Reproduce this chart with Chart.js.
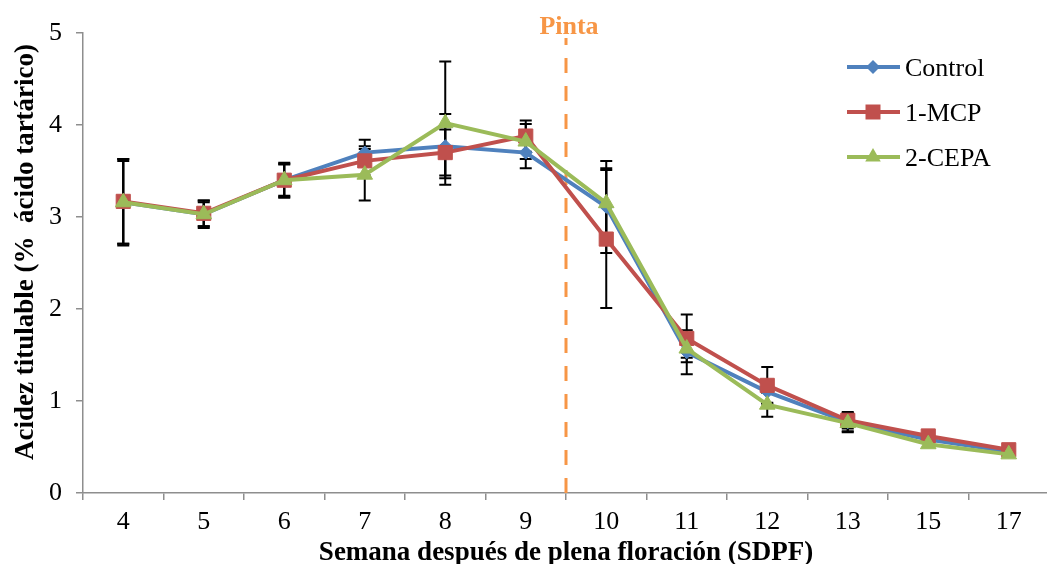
<!DOCTYPE html>
<html>
<head>
<meta charset="utf-8">
<style>
  html, body { margin: 0; padding: 0; background: #fff; overflow: hidden; }
  canvas { display: block; }
</style>
<script src="https://cdn.jsdelivr.net/npm/chart.js@4/dist/chart.umd.min.js"></script>
</head>
<body>
<canvas id="c" width="1060" height="564"></canvas>
<script>
// Weeks after full bloom
const weeks = ['4', '5', '6', '7', '8', '9', '10', '11', '12', '13', '15', '17'];

// Titratable acidity (% tartaric acid) and standard deviations
const control    = [3.16, 3.03, 3.40, 3.70, 3.77, 3.70, 3.11, 1.53, 1.10, 0.77, 0.58, 0.45];
const controlErr = [0.47, 0.15, 0.19, 0.14, 0.35, 0.17, 0.50, 0.24, 0.12, 0.10, 0.03, 0.02];
const mcp        = [3.17, 3.04, 3.40, 3.61, 3.70, 3.88, 2.76, 1.68, 1.17, 0.79, 0.62, 0.47];
const mcpErr     = [0.46, 0.14, 0.18, 0.16, 0.25, 0.17, 0.75, 0.26, 0.20, 0.09, 0.04, 0.03];
const cepa       = [3.16, 3.03, 3.40, 3.46, 4.02, 3.82, 3.15, 1.57, 0.96, 0.76, 0.53, 0.42];
const cepaErr    = [0.45, 0.13, 0.17, 0.28, 0.67, 0.19, 0.38, 0.10, 0.13, 0.10, 0.03, 0.02];

// Y axis ticks
const yTicks = [0, 1, 2, 3, 4, 5];

// Veraison ("Pinta") falls between week 9 and week 10
const pintaAfterIndex = 5;

const SERIF = "'Liberation Serif', 'Times New Roman', serif";
const AXIS = '#8e8e8e';
const BLUE = '#4F81BD', RED = '#C0504D', GREEN = '#9BBB59', ORANGE = '#F79646';

function marker(ctx, style, x, y, color) {
  ctx.save();
  ctx.fillStyle = color;
  ctx.beginPath();
  if (style === 'rectRot') {
    const r = 7;
    ctx.moveTo(x - r, y); ctx.lineTo(x, y - r); ctx.lineTo(x + r, y); ctx.lineTo(x, y + r);
  } else if (style === 'rect') {
    const h = 7.5;
    ctx.rect(x - h, y - h, 2 * h, 2 * h);
  } else {
    const r = 9;
    ctx.moveTo(x, y - r);
    ctx.lineTo(x + r * Math.sin(2 * Math.PI / 3), y - r * Math.cos(2 * Math.PI / 3));
    ctx.lineTo(x + r * Math.sin(4 * Math.PI / 3), y - r * Math.cos(4 * Math.PI / 3));
  }
  ctx.closePath();
  ctx.fill();
  ctx.restore();
}

const errorBars = {
  id: 'errorBars',
  beforeDatasetsDraw(chart) {
    const { ctx, scales: { x, y } } = chart;
    ctx.save();
    ctx.strokeStyle = '#000';
    ctx.lineWidth = 2;
    chart.data.datasets.forEach(ds => {
      ds.values.forEach((v, i) => {
        const e = ds.errors[i];
        const px = x.getPixelForValue(i);
        const top = y.getPixelForValue(v + e);
        const bot = y.getPixelForValue(v - e);
        ctx.beginPath();
        ctx.moveTo(px, top); ctx.lineTo(px, bot);
        ctx.moveTo(px - 6, top); ctx.lineTo(px + 6, top);
        ctx.moveTo(px - 6, bot); ctx.lineTo(px + 6, bot);
        ctx.stroke();
      });
    });
    ctx.restore();
  }
};

const decorations = {
  id: 'decorations',
  beforeDatasetsDraw(chart) {
    const { ctx, chartArea, scales: { x } } = chart;
    const px = Math.round((x.getPixelForValue(pintaAfterIndex) + x.getPixelForValue(pintaAfterIndex + 1)) / 2);
    ctx.save();
    ctx.strokeStyle = ORANGE;
    ctx.lineWidth = 3;
    ctx.setLineDash([15, 13]);
    ctx.lineDashOffset = 8;
    ctx.beginPath();
    ctx.moveTo(px, chartArea.top + 5);
    ctx.lineTo(px, chartArea.bottom);
    ctx.stroke();
    ctx.restore();
  },
  afterDraw(chart) {
    const { ctx, scales: { x } } = chart;
    const px = (x.getPixelForValue(pintaAfterIndex) + x.getPixelForValue(pintaAfterIndex + 1)) / 2;
    ctx.save();
    ctx.fillStyle = ORANGE;
    ctx.font = 'bold 26px ' + SERIF;
    ctx.textAlign = 'center';
    ctx.textBaseline = 'alphabetic';
    ctx.fillText('Pinta', px + 3, 34);

    ctx.fillStyle = '#000';
    ctx.font = 'bold 27px ' + SERIF;
    ctx.fillText('Semana después de plena floración (SDPF)', 566, 560);

    ctx.translate(33, 252);
    ctx.rotate(-Math.PI / 2);
    ctx.fillText('Acidez titulable (%  ácido tartárico)', 0, 0);
    ctx.restore();

    // legend
    ctx.save();
    ctx.font = '26px ' + SERIF;
    ctx.textAlign = 'left';
    ctx.textBaseline = 'alphabetic';
    chart.data.datasets.forEach((ds, i) => {
      const ly = 67 + 45 * i;
      ctx.strokeStyle = ds.borderColor;
      ctx.lineWidth = 4;
      ctx.beginPath();
      ctx.moveTo(847, ly); ctx.lineTo(900, ly);
      ctx.stroke();
      marker(ctx, ds.pointStyle, 873, ly, ds.borderColor);
      ctx.fillStyle = '#000';
      ctx.fillText(ds.label, 905, ly + 9);
    });
    ctx.restore();
  }
};

function series(label, values, errors, color, style, radius, order) {
  return {
    label, data: values, values, errors,
    borderColor: color, backgroundColor: color,
    borderWidth: 4, pointStyle: style, pointRadius: radius,
    pointBorderWidth: 1, pointBorderColor: color, pointBackgroundColor: color,
    tension: 0, order
  };
}

new Chart(document.getElementById('c'), {
  type: 'line',
  data: {
    labels: weeks,
    datasets: [
      series('Control', control, controlErr, BLUE, 'rectRot', 6.5, 2),
      series('1-MCP', mcp, mcpErr, RED, 'rect', 10, 1),
      series('2-CEPA', cepa, cepaErr, GREEN, 'triangle', 9, 0)
    ]
  },
  options: {
    responsive: false,
    devicePixelRatio: 1,
    animation: false,
    layout: { padding: { top: 33, right: 7, left: 0, bottom: 0 } },
    plugins: { legend: { display: false }, tooltip: { enabled: false } },
    scales: {
      x: {
        type: 'category',
        offset: true,
        grid: { display: true, drawOnChartArea: false, drawTicks: true, tickLength: 7, color: AXIS, lineWidth: 1.5, offset: true },
        border: { display: true, color: AXIS, width: 1.5 },
        ticks: { font: { family: SERIF, size: 26 }, color: '#000', padding: 7, maxRotation: 0, autoSkip: false },
        afterFit(s) { s.height = 71; }
      },
      y: {
        min: yTicks[0], max: yTicks[yTicks.length - 1],
        afterBuildTicks(s) { s.ticks = yTicks.map(v => ({ value: v })); },
        grid: { display: true, drawOnChartArea: false, drawTicks: true, tickLength: 7, color: AXIS, lineWidth: 1.5 },
        border: { display: true, color: AXIS, width: 1.5 },
        ticks: { font: { family: SERIF, size: 26 }, color: '#000', padding: 14 },
        afterFit(s) { s.width = 83; }
      }
    }
  },
  plugins: [errorBars, decorations]
});
</script>
</body>
</html>
